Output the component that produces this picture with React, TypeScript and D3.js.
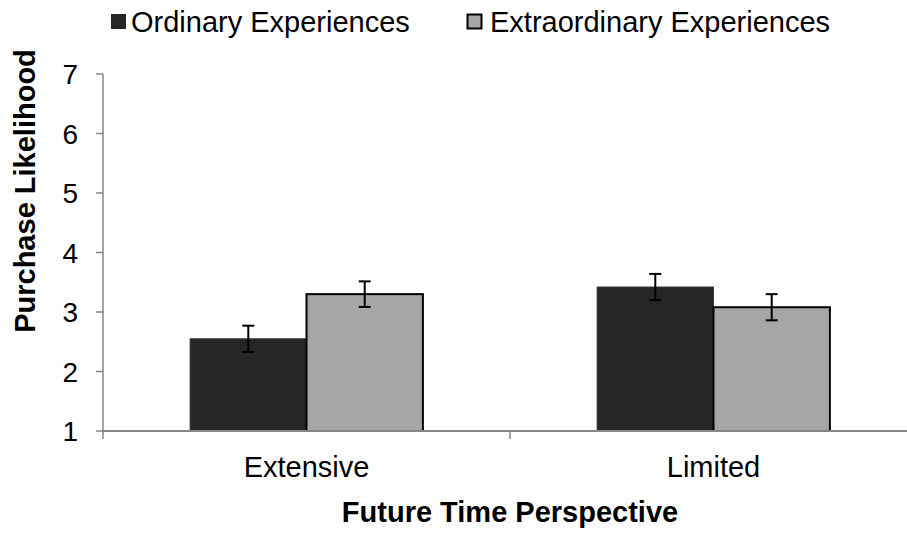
import React from "react";
import * as d3 from "d3";

const categories = ["Extensive", "Limited"];
const seriesNames = ["Ordinary Experiences", "Extraordinary Experiences"];
const ordinaryValues = [2.55, 3.42];
const extraordinaryValues = [3.3, 3.08];
const ordinaryErrors = [0.22, 0.22];
const extraordinaryErrors = [0.215, 0.22];
const yTicks = [1, 2, 3, 4, 5, 6, 7];

const W = 907;
const H = 533;
const FONT = "'Liberation Sans', Arial, sans-serif";

export default function App() {
  const x0 = 103;
  const x1 = 917;
  const y = d3.scaleLinear().domain([1, 7]).range([431, 74]);
  const xBand = d3.scaleBand().domain(categories).range([x0, x1]).paddingInner(0).paddingOuter(0);
  const groupPad = 0.214;
  const xInner = d3
    .scaleBand()
    .domain(seriesNames)
    .range([xBand.bandwidth() * groupPad, xBand.bandwidth() * (1 - groupPad)]);

  const series = [
    { name: seriesNames[0], values: ordinaryValues, errs: ordinaryErrors, fill: "#262626", stroke: "#3a3a3a", sw: 1 },
    { name: seriesNames[1], values: extraordinaryValues, errs: extraordinaryErrors, fill: "#a6a6a6", stroke: "#000000", sw: 2 },
  ];

  const axisColor = "#868686";

  return (
    <div style={{ position: "fixed", left: 0, top: 0 }}>
      <svg width={W} height={H} style={{ display: "block", background: "#fff" }} fontFamily={FONT}>
        {/* bars */}
        {categories.map((c, ci) =>
          series.map((s) => {
            const bx = (xBand(c) as number) + (xInner(s.name) as number);
            const bw = xInner.bandwidth();
            const v = s.values[ci];
            return (
              <rect
                key={c + s.name}
                x={bx}
                y={y(v)}
                width={bw}
                height={y(1) - y(v)}
                fill={s.fill}
                stroke={s.stroke}
                strokeWidth={s.sw}
              />
            );
          })
        )}
        {/* axes */}
        <line x1={x0} x2={x1} y1={y(1)} y2={y(1)} stroke={axisColor} strokeWidth={2} />
        <line x1={x0} x2={x0} y1={y(7)} y2={y(1) + 8} stroke={axisColor} strokeWidth={1.5} />
        {yTicks.map((t) => (
          <g key={t}>
            <line x1={x0 - 7} x2={x0} y1={y(t)} y2={y(t)} stroke={axisColor} strokeWidth={1.5} />
            <text x={78} y={y(t)} dy="0.36em" textAnchor="end" fontSize={28} fill="#000">
              {t}
            </text>
          </g>
        ))}
        {[x0 + xBand.bandwidth()].map((tx) => (
          <line key={tx} x1={tx} x2={tx} y1={y(1)} y2={y(1) + 8} stroke={axisColor} strokeWidth={1.5} />
        ))}
        {/* error bars */}
        {categories.map((c, ci) =>
          series.map((s) => {
            const cx = (xBand(c) as number) + (xInner(s.name) as number) + xInner.bandwidth() / 2;
            const v = s.values[ci];
            const e = s.errs[ci];
            return (
              <g key={"e" + c + s.name} stroke="#000" strokeWidth={2}>
                <line x1={cx} x2={cx} y1={y(v + e)} y2={y(v - e)} />
                <line x1={cx - 6} x2={cx + 6} y1={y(v + e)} y2={y(v + e)} />
                <line x1={cx - 6} x2={cx + 6} y1={y(v - e)} y2={y(v - e)} />
              </g>
            );
          })
        )}
        {/* category labels */}
        {categories.map((c) => (
          <text key={c} x={(xBand(c) as number) + xBand.bandwidth() / 2} y={477} textAnchor="middle" fontSize={29}>
            {c}
          </text>
        ))}
        {/* axis titles */}
        <text x={510} y={522} textAnchor="middle" fontSize={29} fontWeight="bold">
          Future Time Perspective
        </text>
        <text transform="translate(35,191) rotate(-90)" textAnchor="middle" fontSize={29} fontWeight="bold">
          Purchase Likelihood
        </text>
        {/* legend */}
        <rect x={111} y={14} width={15} height={15} fill="#262626" />
        <text x={131} y={32} fontSize={29}>
          {seriesNames[0]}
        </text>
        <rect x={467.5} y={14.5} width={14} height={14} fill="#a6a6a6" stroke="#000" strokeWidth={2} />
        <text x={490} y={32} fontSize={29}>
          {seriesNames[1]}
        </text>
      </svg>
    </div>
  );
}
